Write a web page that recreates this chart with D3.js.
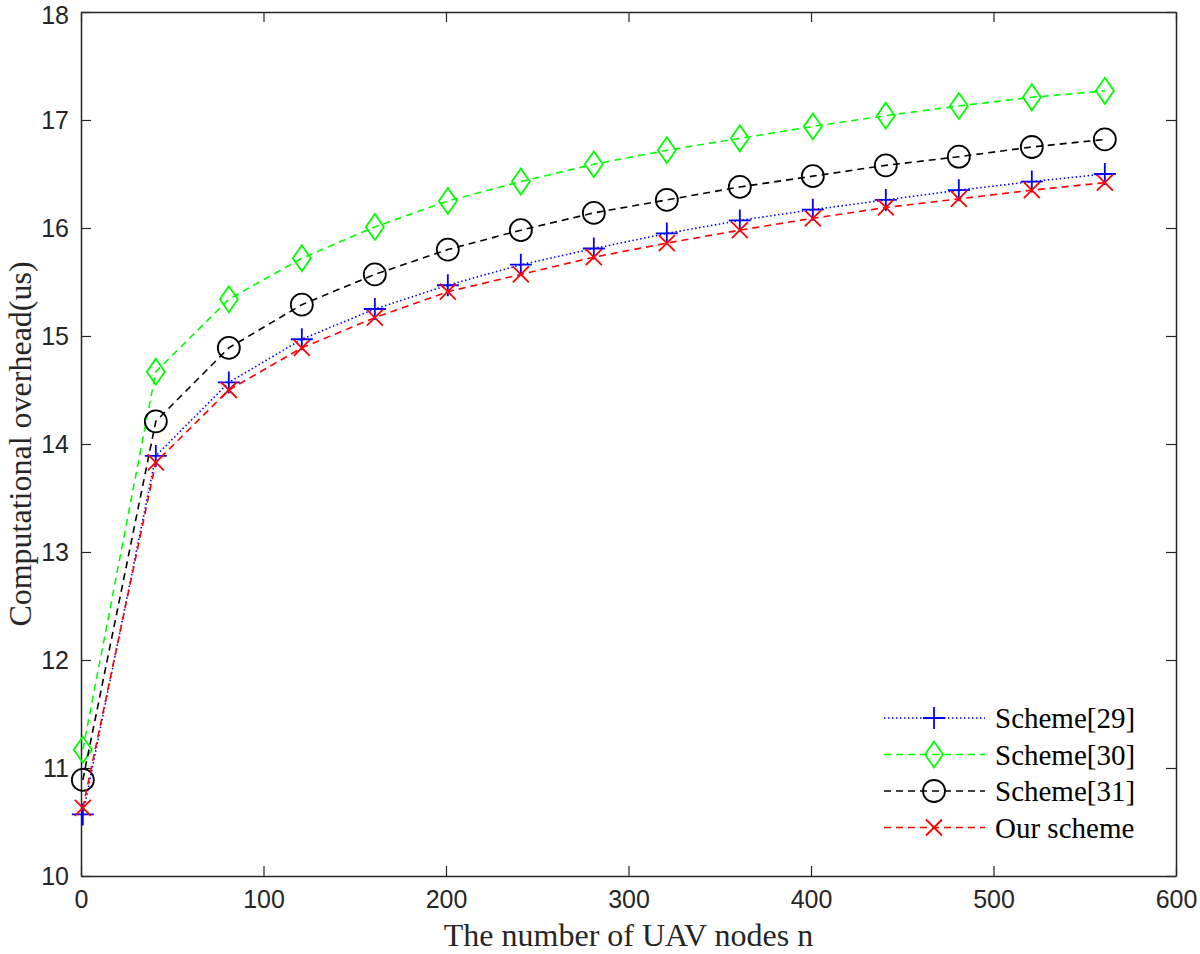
<!DOCTYPE html>
<html>
<head>
<meta charset="utf-8">
<script src="https://cdn.jsdelivr.net/npm/d3@7"></script>
<style>
  body { margin: 0; background: #fff; }
  svg { display: block; }
</style>
</head>
<body>
<div id="chart"></div>
<script>
// data
const nodes = [1, 41, 81, 121, 161, 201, 241, 281, 321, 361, 401, 441, 481, 521, 561];
const scheme29 = [10.57, 13.89, 14.57, 14.97, 15.25, 15.47, 15.66, 15.81, 15.95, 16.07, 16.17, 16.26, 16.35, 16.43, 16.50];
const scheme30 = [11.17, 14.67, 15.34, 15.72, 16.01, 16.25, 16.43, 16.59, 16.72, 16.83, 16.94, 17.04, 17.13, 17.21, 17.27];
const scheme31 = [10.89, 14.21, 14.89, 15.29, 15.57, 15.80, 15.98, 16.14, 16.26, 16.38, 16.48, 16.58, 16.66, 16.75, 16.82];
const ourScheme = [10.63, 13.83, 14.50, 14.89, 15.17, 15.41, 15.57, 15.73, 15.86, 15.98, 16.09, 16.19, 16.27, 16.35, 16.42];
const seriesNames = ["Scheme[29]", "Scheme[30]", "Scheme[31]", "Our scheme"];
const xTicks = [0, 100, 200, 300, 400, 500, 600];
const yTicks = [10, 11, 12, 13, 14, 15, 16, 17, 18];

const width = 1200;
const height = 954;
const margin = { left: 81, right: 24, top: 12, bottom: 78 };

const series = [
  { name: seriesNames[0], values: scheme29, color: "#0000ff", dash: "1.5,2.5", marker: "plus" },
  { name: seriesNames[1], values: scheme30, color: "#00ff00", dash: "7,5", marker: "diamond" },
  { name: seriesNames[2], values: scheme31, color: "#000000", dash: "7,5", marker: "circle" },
  { name: seriesNames[3], values: ourScheme, color: "#ff0000", dash: "7,5", marker: "cross" }
];

const svg = d3.select("#chart").append("svg").attr("width", width).attr("height", height);

const x = d3.scaleLinear().domain([0, 600]).range([margin.left, width - margin.right]);
const y = d3.scaleLinear().domain([10, 18]).range([height - margin.bottom, margin.top]);

const axisColor = "#262626";
const tickFont = "'Liberation Sans', Arial, sans-serif";
const labelFont = "'Liberation Serif', 'Times New Roman', serif";

// axes, ticks pointing inwards (box on)
const xAxis = svg.append("g")
  .attr("transform", `translate(0,${y(10)})`)
  .call(d3.axisBottom(x).tickValues(xTicks).tickSizeInner(-10).tickSizeOuter(0).tickPadding(14));
const yAxis = svg.append("g")
  .attr("transform", `translate(${x(0)},0)`)
  .call(d3.axisLeft(y).tickValues(yTicks).tickSizeInner(-10).tickSizeOuter(0).tickPadding(12));
const xTop = svg.append("g")
  .attr("transform", `translate(0,${y(18)})`)
  .call(d3.axisTop(x).tickValues(xTicks).tickSizeInner(-10).tickSizeOuter(0).tickFormat(""));
const yRight = svg.append("g")
  .attr("transform", `translate(${x(600)},0)`)
  .call(d3.axisRight(y).tickValues(yTicks).tickSizeInner(-10).tickSizeOuter(0).tickFormat(""));

[xAxis, yAxis, xTop, yRight].forEach(g => {
  g.select(".domain").attr("stroke", axisColor).attr("stroke-width", 1.5);
  g.selectAll(".tick line").attr("stroke", axisColor).attr("stroke-width", 1.2);
  g.selectAll(".tick text").attr("fill", axisColor).style("font-family", tickFont).style("font-size", "25px");
});
xAxis.selectAll(".tick text").attr("dy", "0.71em");
// top label sits right at the page edge, nudge it down a bit
yAxis.selectAll(".tick text").filter(d => d === 18).attr("dy", "0.45em");

// axis labels
svg.append("text")
  .attr("x", (x(0) + x(600)) / 2)
  .attr("y", 946)
  .attr("text-anchor", "middle")
  .style("font-family", labelFont)
  .style("font-size", "32px")
  .attr("fill", axisColor)
  .text("The number of UAV nodes n");

svg.append("text")
  .attr("transform", `translate(31,${(y(10) + y(18)) / 2}) rotate(-90)`)
  .attr("text-anchor", "middle")
  .style("font-family", labelFont)
  .style("font-size", "32px")
  .attr("fill", axisColor)
  .text("Computational overhead(us)");

// markers
const drawMarker = (g, type, color) => {
  if (type === "plus") {
    g.append("path").attr("d", "M-11,0H11M0,-11V11").attr("stroke", color).attr("stroke-width", 1.8).attr("fill", "none");
  } else if (type === "diamond") {
    g.append("path").attr("d", "M0,-13L9,0L0,13L-9,0Z").attr("stroke", color).attr("stroke-width", 1.8).attr("fill", "none");
  } else if (type === "circle") {
    g.append("circle").attr("r", 11).attr("stroke", color).attr("stroke-width", 1.8).attr("fill", "none");
  } else {
    g.append("path").attr("d", "M-8,-8L8,8M-8,8L8,-8").attr("stroke", color).attr("stroke-width", 1.8).attr("fill", "none");
  }
};

const line = d3.line()
  .x((d, i) => x(nodes[i]))
  .y(d => y(d));

series.forEach(s => {
  svg.append("path")
    .attr("fill", "none")
    .attr("stroke", s.color)
    .attr("stroke-width", 1.6)
    .attr("stroke-dasharray", s.dash)
    .attr("d", line(s.values));
  s.values.forEach((v, i) => {
    const g = svg.append("g").attr("transform", `translate(${x(nodes[i])},${y(v)})`);
    drawMarker(g, s.marker, s.color);
  });
});

// legend (no box)
const legend = svg.append("g").attr("transform", "translate(884,718)");
series.forEach((s, i) => {
  const row = legend.append("g").attr("transform", `translate(0,${i * 36.5})`);
  row.append("line")
    .attr("x1", 0).attr("x2", 101)
    .attr("stroke", s.color).attr("stroke-width", 1.6)
    .attr("stroke-dasharray", s.dash);
  const m = row.append("g").attr("transform", "translate(50,0)");
  drawMarker(m, s.marker, s.color);
  row.append("text")
    .attr("x", 111)
    .attr("dy", "0.35em")
    .style("font-family", labelFont)
    .style("font-size", "29px")
    .attr("fill", "#000")
    .text(s.name);
});
</script>
</body>
</html>
